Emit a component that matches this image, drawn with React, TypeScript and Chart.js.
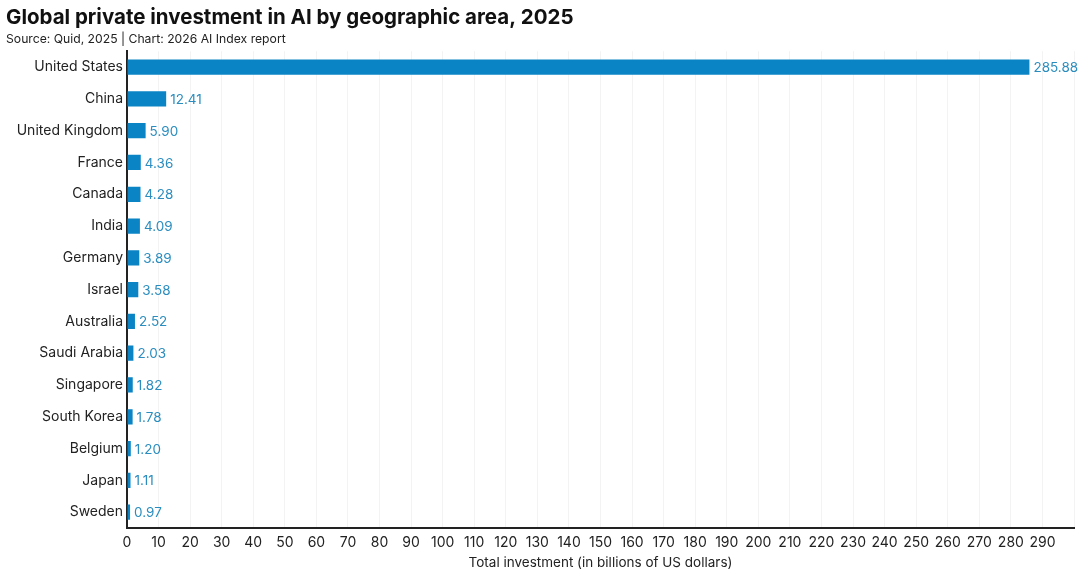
import React, { useEffect, useRef } from "react";
import { Chart, registerables } from "chart.js";

Chart.register(...registerables);

const countries = [
  "United States", "China", "United Kingdom", "France", "Canada", "India", "Germany",
  "Israel", "Australia", "Saudi Arabia", "Singapore", "South Korea", "Belgium", "Japan", "Sweden",
];
const investment = [285.88, 12.41, 5.9, 4.36, 4.28, 4.09, 3.89, 3.58, 2.52, 2.03, 1.82, 1.78, 1.2, 1.11, 0.97];

const titleText = "Global private investment in AI by geographic area, 2025";
const subtitleText = "Source: Quid, 2025 | Chart: 2026 AI Index report";
const xAxisTitle = "Total investment (in billions of US dollars)";

const FONT = "Inter, 'Noto Sans', sans-serif";

const labelPlugin = {
  id: "barLabels",
  afterDatasetsDraw(chart: any) {
    const ctx = chart.ctx;
    const meta = chart.getDatasetMeta(0);
    ctx.save();
    ctx.font = `13.5px ${FONT}`;
    ctx.fillStyle = "#2a8dbf";
    ctx.textAlign = "left";
    ctx.textBaseline = "middle";
    meta.data.forEach((bar: any, i: number) => {
      ctx.fillText(investment[i].toFixed(2), bar.x + 4, bar.y + 1);
    });
    ctx.restore();
  },
};

export default function App() {
  const ref = useRef<HTMLCanvasElement | null>(null);
  useEffect(() => {
    if (!ref.current) return;
    const chart = new Chart(ref.current, {
      type: "bar",
      data: {
        labels: countries,
        datasets: [
          {
            data: investment,
            backgroundColor: "#0a84c4",
            categoryPercentage: 1,
            barPercentage: 0.48,
          },
        ],
      },
      options: {
        indexAxis: "y",
        animation: false,
        responsive: false,
        layout: { padding: { left: 6, right: 5, top: 0, bottom: 0 } },
        plugins: {
          legend: { display: false },
          tooltip: { enabled: false },
          title: {
            display: true,
            text: titleText,
            align: "start",
            color: "#111",
            font: { family: FONT, size: 20.5, weight: "bold" },
            padding: { top: 6, bottom: 1 },
          },
          subtitle: {
            display: true,
            text: subtitleText,
            align: "start",
            color: "#222",
            font: { family: FONT, size: 12.2 },
            padding: { top: 0, bottom: 5 },
          },
        },
        scales: {
          x: {
            min: 0,
            max: 300,
            ticks: {
              stepSize: 10,
              color: "#222",
              font: { family: FONT, size: 14 },
              padding: 6,
              maxRotation: 0,
              autoSkip: false,
              callback: (v: any) => (Number(v) === 300 ? "" : String(v)),
            },
            grid: { color: "#f3f3f3", drawTicks: false },
            border: { color: "#222", width: 2 },
            title: {
              display: true,
              text: xAxisTitle,
              color: "#222",
              font: { family: FONT, size: 13.5 },
              padding: { top: 1, bottom: 5 },
            },
            afterFit: (scale: any) => {
              scale.height = 48;
            },
          },
          y: {
            ticks: {
              color: "#222",
              font: { family: FONT, size: 14 },
              padding: 4,
              autoSkip: false,
            },
            grid: { display: false, drawTicks: false },
            border: { color: "#222", width: 2 },
            afterFit: (scale: any) => {
              scale.width = 121;
            },
          },
        },
      },
      plugins: [labelPlugin],
    });
    return () => chart.destroy();
  }, []);
  return (
    <div style={{ position: "fixed", left: 0, top: 0, width: 1080, height: 576, background: "#fff" }}>
      <canvas ref={ref} width={1080} height={576} style={{ width: 1080, height: 576 }} />
    </div>
  );
}
